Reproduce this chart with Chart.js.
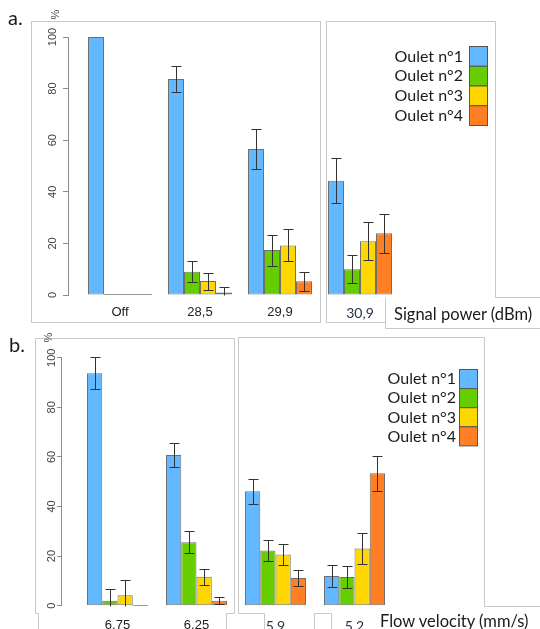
<!DOCTYPE html>
<html>
<head>
<meta charset="utf-8">
<script src="https://cdn.jsdelivr.net/npm/chart.js@4.4.1/dist/chart.umd.min.js"></script>
<style>
  body { margin: 0; background: #fff; }
  #fig { position: relative; width: 540px; height: 629px; overflow: hidden; }
  #fig canvas { position: absolute; left: 0; }
  #chartA { top: 0; }
  #chartB { top: 320px; }
  #overlay { position: absolute; left: 0; top: 0; pointer-events: none; }
  #overlay text { font-family: Lato, sans-serif; fill: #1a1a1a; }
</style>
</head>
<body>
<div id="fig">
  <canvas id="chartA" width="540" height="330"></canvas>
  <canvas id="chartB" width="540" height="309"></canvas>
  <svg id="overlay" width="540" height="629" xmlns="http://www.w3.org/2000/svg">
    <g fill="none" stroke="#c8c8c8" stroke-width="1">
      <rect x="31.5" y="21.5" width="289" height="301"/>
      <polyline points="385.5,322.5 326.5,322.5 326.5,21.5 495.5,21.5 495.5,297.5 540,297.5"/>
      <polyline points="385.5,298 385.5,328.5 540,328.5"/>
      <polyline points="38.5,629 38.5,613.5 35.5,613.5 35.5,338.5 234.5,338.5 234.5,613.5 226.5,613.5 226.5,629"/>
      <polyline points="264.5,629 264.5,613.5 238.5,613.5 238.5,337.5 484.5,337.5 484.5,606.5 540,606.5"/>
      <polyline points="314.5,629 314.5,613.5 331.5,613.5 331.5,629"/>
    </g>
    <text x="8" y="25" font-size="20">a.</text>
    <text x="9" y="352" font-size="20">b.</text>
    <text transform="translate(55,14.5) rotate(-90)" text-anchor="middle" dominant-baseline="central"
          style="font-family:'Liberation Sans';font-size:11px;fill:#444">%</text>
    <text transform="translate(48,337.5) rotate(-90)" text-anchor="middle" dominant-baseline="central"
          style="font-family:'Liberation Sans';font-size:11px;fill:#444">%</text>
    <text x="394" y="320" font-size="16.5">Signal power (dBm)</text>
    <text x="380" y="627" font-size="16.5">Flow velocity (mm/s)</text>
    <g id="legendA"></g>
    <g id="legendB"></g>
  </svg>
</div>
<script>
// series and axes
const seriesNames = ['Oulet n°1', 'Oulet n°2', 'Oulet n°3', 'Oulet n°4'];
const yTicks = [0, 20, 40, 60, 80, 100];

// a. signal power (dBm)
const powerLabels = ['Off', '28,5', '29,9', '30,9'];
const powerOutlet1 = [100, 83.7, 56.6, 44.3];
const powerOutlet2 = [0, 9.0, 17.4, 10.0];
const powerOutlet3 = [0, 5.4, 19.2, 20.8];
const powerOutlet4 = [0, 1.0, 5.3, 23.9];
const powerErr1 = [0, 5.1, 7.9, 8.7];
const powerErr2 = [0, 4.0, 6.0, 5.5];
const powerErr3 = [0, 3.3, 6.2, 7.4];
const powerErr4 = [0, 2.0, 3.7, 7.5];

// b. flow velocity (mm/s)
const flowLabels = ['6,75', '6,25', '5,9', '5,2'];
const flowOutlet1 = [93.7, 60.8, 46.1, 12.0];
const flowOutlet2 = [2.0, 25.6, 22.3, 11.6];
const flowOutlet3 = [4.2, 11.7, 20.6, 23.1];
const flowOutlet4 = [0, 2.0, 11.2, 53.4];
const flowErr1 = [6.5, 4.8, 5.0, 4.5];
const flowErr2 = [4.6, 4.5, 4.3, 4.4];
const flowErr3 = [6.0, 3.2, 4.2, 6.1];
const flowErr4 = [0, 1.5, 3.3, 7.0];

const seriesColors = ['#63B8FF', '#66CD00', '#FFD700', '#FF7F24'];
const SVGNS = 'http://www.w3.org/2000/svg';

// error bars + flat line for zero-height bars
const errorBars = {
  id: 'errorBars',
  afterDatasetsDraw(chart, args, opts) {
    const ctx = chart.ctx;
    const y = chart.scales.y;
    const base = Math.round(y.getPixelForValue(0)) - 0.5;
    ctx.save();
    ctx.lineWidth = 1;
    chart.data.datasets.forEach((ds, i) => {
      const meta = chart.getDatasetMeta(i);
      meta.data.forEach((bar, j) => {
        const v = ds.data[j].y;
        const e = ds.errors[j];
        if (v === 0) {
          ctx.strokeStyle = '#9a9a9a';
          ctx.beginPath();
          ctx.moveTo(bar.x - bar.width / 2, base);
          ctx.lineTo(bar.x + bar.width / 2, base);
          ctx.stroke();
        }
        if (!e) return;
        const x = Math.round(bar.x) + 0.5;
        const top = Math.round(y.getPixelForValue(v + e)) + 0.5;
        const low = v - e;
        const bot = Math.round(y.getPixelForValue(Math.max(0, low))) + 0.5;
        ctx.strokeStyle = opts.color;
        ctx.beginPath();
        ctx.moveTo(x, top); ctx.lineTo(x, bot);
        ctx.moveTo(x - opts.cap, top); ctx.lineTo(x + opts.cap, top);
        if (low > 0) { ctx.moveTo(x - opts.cap, bot); ctx.lineTo(x + opts.cap, bot); }
        ctx.stroke();
      });
    });
    ctx.restore();
  }
};

// legend drawn as svg text, swatches on the right
const svgLegend = {
  id: 'svgLegend',
  afterUpdate(chart, args, opts) {
    const g = document.getElementById(opts.target);
    g.innerHTML = '';
    chart.data.datasets.forEach((ds, i) => {
      const top = opts.top + i * opts.row;
      const r = document.createElementNS(SVGNS, 'rect');
      r.setAttribute('x', opts.boxX + 0.5);
      r.setAttribute('y', top + 0.5);
      r.setAttribute('width', opts.boxW);
      r.setAttribute('height', opts.row);
      r.setAttribute('fill', ds.backgroundColor);
      r.setAttribute('stroke', '#555');
      g.appendChild(r);
      const t = document.createElementNS(SVGNS, 'text');
      t.setAttribute('x', opts.boxX - opts.gap);
      t.setAttribute('y', top + opts.row / 2 + 5.8);
      t.setAttribute('text-anchor', 'end');
      t.setAttribute('font-size', opts.size);
      t.textContent = ds.label;
      g.appendChild(t);
    });
  }
};

function panelChart(id, labels, values, errors, geo) {
  const datasets = values.map((vals, i) => ({
    label: seriesNames[i],
    data: vals.map((v, j) => ({ x: j, y: v })),
    errors: errors[i],
    backgroundColor: seriesColors[i],
    borderColor: 'rgba(64,64,64,0.75)',
    borderWidth: 1,
    borderSkipped: false,
    barPercentage: 1,
    categoryPercentage: geo.groupPct
  }));

  return new Chart(document.getElementById(id), {
    type: 'bar',
    data: { datasets },
    options: {
      responsive: false,
      animation: false,
      layout: { padding: { top: geo.top, right: geo.right, left: 0, bottom: 0 } },
      plugins: {
        legend: { display: false },
        tooltip: { enabled: false },
        errorBars: { color: '#333', cap: 5 },
        svgLegend: geo.legend
      },
      scales: {
        x: {
          type: 'linear',
          offset: false,
          min: geo.xMin,
          max: geo.xMax,
          grid: { display: false, drawTicks: false },
          border: { display: false },
          afterBuildTicks: s => { s.ticks = labels.map((_, i) => ({ value: i })); },
          afterFit: s => { s.height = geo.xAxisH; },
          ticks: {
            padding: geo.xPad,
            autoSkip: false,
            maxRotation: 0,
            callback: v => labels[v],
            font: c => geo.calibri.includes(c.index)
              ? { family: 'Lato', size: 14 }
              : { family: 'Liberation Sans', size: 13 },
            color: c => geo.calibri.includes(c.index) ? '#27354a' : '#222'
          }
        },
        y: {
          min: 0,
          max: 100,
          afterBuildTicks: s => { s.ticks = yTicks.map(v => ({ value: v })); },
          afterFit: s => { s.width = geo.yAxisX; },
          grid: { drawOnChartArea: false, tickLength: geo.tickLen, color: '#8c8c8c' },
          border: { color: '#8c8c8c' },
          ticks: {
            minRotation: 90,
            maxRotation: 90,
            crossAlign: 'center',
            padding: geo.yPad,
            font: { family: 'Liberation Sans', size: 11 },
            color: '#444'
          }
        }
      }
    },
    plugins: [errorBars, svgLegend]
  });
}

// group centres a: 120 + 80*i ; b: 117.5 + 79*i
panelChart('chartA', powerLabels,
  [powerOutlet1, powerOutlet2, powerOutlet3, powerOutlet4],
  [powerErr1, powerErr2, powerErr3, powerErr4],
  {
    top: 37, right: 132, xMin: -0.65, xMax: 3.6, xAxisH: 35, xPad: 10,
    yAxisX: 68, tickLen: 5, yPad: 1, groupPct: 0.8, calibri: [3],
    legend: { target: 'legendA', top: 46, row: 19.75, boxX: 469, boxW: 18, gap: 6, size: 16 }
  });

panelChart('chartB', flowLabels,
  [flowOutlet1, flowOutlet2, flowOutlet3, flowOutlet4],
  [flowErr1, flowErr2, flowErr3, flowErr4],
  {
    top: 37.7, right: 138, xMin: -0.715, xMax: 3.601, xAxisH: 23.3, xPad: 12,
    yAxisX: 61, tickLen: 4, yPad: -4, groupPct: 0.772, calibri: [2, 3],
    legend: { target: 'legendB', top: 369, row: 19.1, boxX: 459, boxW: 18, gap: 3, size: 16 }
  });
</script>
</body>
</html>
